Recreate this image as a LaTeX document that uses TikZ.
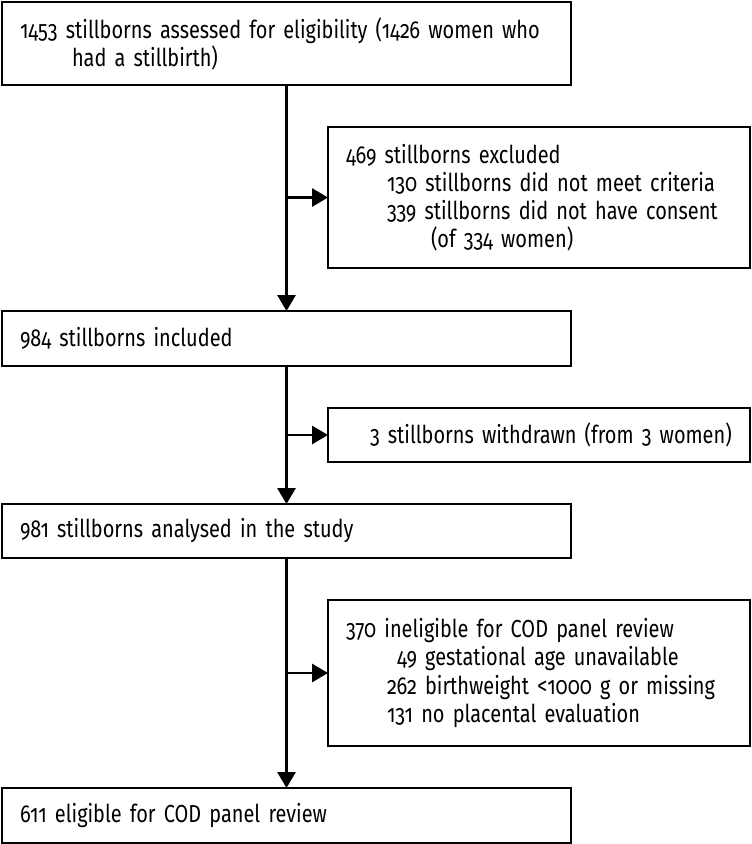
\documentclass[tikz,border=0pt]{standalone}
\usepackage{fontspec}
\setmainfont{Fira Sans}[Numbers=OldStyle,FakeStretch=0.81]
\usetikzlibrary{arrows.meta}
\begin{document}
\begin{tikzpicture}[
		box/.style={draw, line width=2.1pt, anchor=north west, inner xsep=0.45cm, inner ysep=0pt, outer sep=0pt, align=left, font=\fontsize{17.5}{20}\selectfont},
		mainbox/.style={box, minimum width=14.225cm, text width=13.325cm},
		sidebox/.style={box, minimum width=10.55cm, text width=9.65cm},
		arr/.style={line width=2.1pt, -{Triangle[length=0.4cm,width=0.45cm]}}
	]
		\useasboundingbox (0,0) rectangle (18.8,-21.1);
		% main column
		\node [mainbox, minimum height=2.075cm] (assessed) at (0.05,-0.05) {1453 stillborns assessed for eligibility (1426 women who\\\hspace*{1.3cm}had a stillbirth)};
		\node [mainbox, minimum height=1.375cm] (included) at (0.05,-7.775) {984 stillborns included};
		\node [mainbox, minimum height=1.35cm] (analysed) at (0.05,-12.6) {981 stillborns analysed in the study};
		\node [mainbox, minimum height=1.375cm] (eligible) at (0.05,-19.7) {611 eligible for COD panel review};
		% side column
		\node [sidebox, minimum height=3.525cm] (excluded) at (8.2,-3.175) {469 stillborns excluded\\\hspace*{1.025cm}130 stillborns did not meet criteria\\\hspace*{1.025cm}339 stillborns did not have consent\\\hspace*{2.125cm}(of 334 women)};
		\node [sidebox, minimum height=1.35cm] (withdrawn) at (8.2,-10.2) {\hspace*{0.6cm}3 stillborns withdrawn (from 3 women)};
		\node [sidebox, minimum height=3.65cm] (ineligible) at (8.2,-15) {370 ineligible for COD panel review\\\hspace*{1.275cm}49 gestational age unavailable\\\hspace*{1.025cm}262 birthweight <1000 g or missing\\\hspace*{1.025cm}131 no placental evaluation};
		% connectors
		\draw [arr] (assessed) -- (included);
		\draw [arr] (included) -- (analysed);
		\draw [arr] (analysed) -- (eligible);
		\draw [arr] (assessed |- excluded.west) -- (excluded.west);
		\draw [arr] (included |- withdrawn.west) -- (withdrawn.west);
		\draw [arr] (analysed |- ineligible.west) -- (ineligible.west);
\end{tikzpicture}
\end{document}
